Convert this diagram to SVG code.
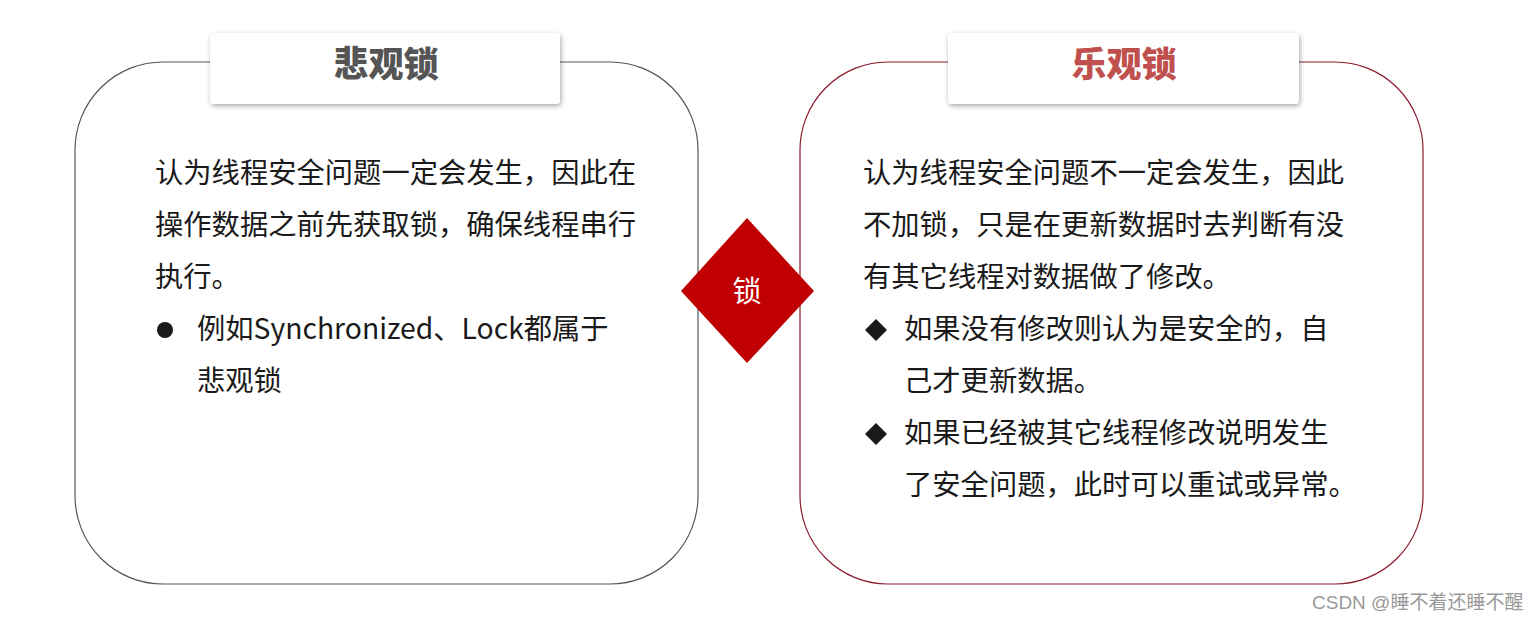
<svg xmlns="http://www.w3.org/2000/svg" width="1538" height="620" viewBox="0 0 1538 620">
<style>
.body{font-family:"Noto Sans CJK SC","Noto Sans",sans-serif;font-size:28.3px;fill:#1a1a1a}
.title{font-family:"Noto Sans CJK SC","Noto Sans",sans-serif;font-size:35px;font-weight:900;text-anchor:middle}
.tbox{fill:#fff;filter:url(#sh)}
</style>
<defs>
<filter id="sh" x="-10%" y="-30%" width="120%" height="160%">
<feDropShadow dx="1" dy="2" stdDeviation="2.5" flood-color="#000" flood-opacity="0.35"/>
</filter>
</defs>
<rect width="1538" height="620" fill="#fff"/>
<g id="pessimistic">
<rect x="75" y="62" width="623" height="522" rx="88" ry="88" fill="#fff" stroke="#555" stroke-width="1.2"/>
<rect class="tbox" x="210" y="33" width="350" height="71" rx="4"/>
<text class="title" x="386" y="77" fill="#555">悲观锁</text>
<text class="body" x="155" y="183">认为线程安全问题一定会发生，因此在</text>
<text class="body" x="155" y="235">操作数据之前先获取锁，确保线程串行</text>
<text class="body" x="155" y="287">执行。</text>
<circle cx="165" cy="330" r="8" fill="#1a1a1a"/>
<text class="body" x="197" y="339">例如Synchronized、Lock都属于</text>
<text class="body" x="197" y="391">悲观锁</text>
</g>
<g id="optimistic">
<rect x="800" y="62" width="623" height="522" rx="88" ry="88" fill="#fff" stroke="#8b1a2a" stroke-width="1.2"/>
<rect class="tbox" x="948" y="33" width="351" height="71" rx="4"/>
<text class="title" x="1124" y="77" fill="#c0504d">乐观锁</text>
<text class="body" x="863" y="183">认为线程安全问题不一定会发生，因此</text>
<text class="body" x="863" y="235">不加锁，只是在更新数据时去判断有没</text>
<text class="body" x="863" y="287">有其它线程对数据做了修改。</text>
<polygon points="876,319 887,330 876,341 865,330" fill="#1a1a1a"/>
<text class="body" x="904" y="339">如果没有修改则认为是安全的，自</text>
<text class="body" x="904" y="391">己才更新数据。</text>
<polygon points="876,423 887,434 876,445 865,434" fill="#1a1a1a"/>
<text class="body" x="904" y="443">如果已经被其它线程修改说明发生</text>
<text class="body" x="904" y="495">了安全问题，此时可以重试或异常。</text>
</g>
<g id="lock">
<polygon points="747,218 814,291 747,363 681,291" fill="#c00000"/>
<text x="747" y="302" text-anchor="middle" font-family="'Noto Sans CJK SC','Noto Sans',sans-serif" font-size="29" fill="#fff">锁</text>
</g>
<g id="connectors"></g>
<text x="1312" y="609" font-family="'Liberation Sans','Noto Sans CJK SC',sans-serif" font-size="19" fill="#999">CSDN @睡不着还睡不醒</text>
</svg>
